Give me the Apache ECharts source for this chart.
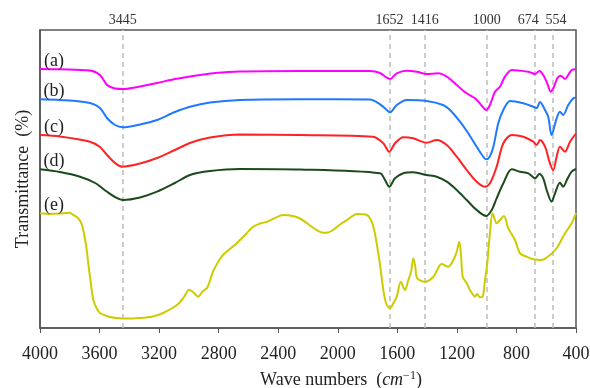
<!DOCTYPE html>
<html>
<head>
<meta charset="utf-8">
<script src="https://cdn.jsdelivr.net/npm/echarts@6/dist/echarts.min.js"></script>
<style>
html,body{margin:0;padding:0;background:#fff;}
#chart{width:590px;height:388px;}
</style>
</head>
<body>
<div id="chart"></div>
<script>
// Wavenumber ticks (cm^-1)
const xTicks = [4000, 3600, 3200, 2800, 2400, 2000, 1600, 1200, 800, 400];
// Marked band positions
const bands = [3445, 1652, 1416, 1000, 674, 554];
const seriesNames = ['(a)', '(b)', '(c)', '(d)', '(e)'];
const seriesColors = ['#ff00ff', '#1f78ff', '#ff2222', '#1b4a1b', '#cccc00'];

// [wavenumber, transmittance (arb. units, stacked offsets)]
const seriesA = [[4000,259],[3866,258.7],[3664,257.5],[3597,253],[3550,243],[3496,239.5],[3443,239],[3328,241.5],[3214,245],[3094,249],[2993,251.5],[2925,253],[2825,255],[2657,256.5],[2254,257],[1784,257],[1716,255],[1671,250.3],[1649,249],[1604,254.7],[1537,257.3],[1470,256.3],[1403,254],[1325,254.7],[1268,251.3],[1201,243],[1134,234.7],[1078,229.7],[1033,222.3],[1004,218],[978,223],[944,236.3],[911,241.3],[877,251.3],[832,258],[776,257.3],[720,256.3],[675,254],[646,257],[620,253],[593,244.7],[570,236.3],[548,241.3],[526,249.7],[503,252.3],[474,249],[452,253],[429,258],[400,258.7]];

const seriesB = [[4000,228.7],[3866,228],[3664,225],[3597,220],[3550,210],[3496,203],[3443,200.7],[3328,203.5],[3214,208],[3094,216],[2993,221.3],[2858,225.5],[2657,228],[2254,228.7],[1784,228.5],[1716,223.7],[1671,218],[1649,215.7],[1604,223],[1537,228],[1403,227],[1293,223],[1246,218],[1179,206.3],[1125,195],[1067,181.3],[1031,173],[1004,168.7],[981,171],[955,181.3],[922,204.7],[888,218],[843,227],[754,224.7],[687,221.3],[664,220],[642,226],[608,218],[586,211],[564,193],[530,209.7],[508,216.3],[486,213],[452,223],[418,229.7],[400,230.5]];

const seriesC = [[4000,193],[3866,191.5],[3664,186.3],[3597,181],[3550,173],[3496,165],[3450,161.3],[3328,164.5],[3214,170],[3094,178],[2993,185],[2858,190.5],[2657,193.5],[2254,193],[1763,191.3],[1694,184.7],[1654,176.3],[1616,184.7],[1560,190.7],[1493,189.7],[1403,185.3],[1336,188],[1268,183],[1201,171.3],[1134,158],[1067,146.3],[1011,141.3],[978,144.7],[933,161.3],[888,184.7],[832,193],[754,191.3],[687,186.3],[664,183],[642,188],[608,181.3],[575,164.7],[553,158],[530,171.3],[508,181.3],[474,176.3],[440,186.3],[400,194.5]];

const seriesD = [[4000,158.7],[3866,156],[3731,151.3],[3630,145],[3550,136.3],[3496,131],[3443,128],[3328,130.5],[3214,136.3],[3094,145],[2993,153],[2858,157],[2657,159],[2254,158.5],[1716,154.7],[1683,148],[1654,141.3],[1616,149.7],[1560,154.7],[1493,155.7],[1403,153],[1336,151.3],[1268,146.3],[1201,138],[1134,128],[1067,118],[1004,112],[966,118],[933,129.7],[888,144.7],[832,158.7],[776,156.3],[720,154.7],[675,149.7],[646,154],[620,149.7],[597,138],[564,126.3],[541,134.7],[508,145.3],[486,141.3],[456,149.7],[429,156.3],[400,159]];

const seriesE = [[4000,114.7],[3933,114],[3866,114.4],[3799,115.2],[3785,114],[3745,110],[3718,103],[3691,83],[3676,65],[3657,43],[3642,28],[3617,19],[3597,15],[3530,11],[3443,9.5],[3328,10],[3241,11.5],[3174,15],[3080,23],[3033,31],[3000,38],[2972,36],[2939,31.3],[2905,37],[2878,40],[2838,56.3],[2804,66],[2771,73],[2724,79],[2677,85],[2623,93],[2569,101.3],[2522,104.5],[2475,106.3],[2422,110],[2368,113],[2301,112],[2254,109.5],[2207,104.7],[2153,99],[2099,95.3],[2066,95.5],[2032,98],[1985,103.5],[1938,108],[1871,114],[1804,113],[1777,108],[1757,99],[1737,83],[1716,63],[1696,40],[1676,25],[1649,19.7],[1629,24],[1604,31.3],[1577,46.3],[1549,38],[1526,48],[1508,56],[1493,69.7],[1481,63],[1466,49.7],[1414,46.3],[1358,51.3],[1302,64],[1257,61.3],[1224,68],[1201,76.3],[1184,86.3],[1172,73],[1161,51.3],[1134,44.7],[1112,38],[1078,31.3],[1065,34],[1045,30.7],[1027,31.3],[1011,48],[996,64.7],[978,94.7],[960,114.7],[933,104.7],[911,108],[884,112],[855,99.7],[810,88],[776,74.7],[731,71.3],[687,68.7],[631,68],[575,73],[530,79.7],[474,94.7],[429,104.7],[400,115]];

const allSeries = [seriesA, seriesB, seriesC, seriesD, seriesE];
const FONT = "'Liberation Serif', 'Times New Roman', serif";

const chart = echarts.init(document.getElementById('chart'), null, {renderer: 'canvas'});

const bandOffsets = {674: [-7, 0], 554: [3, 0]};

const series = allSeries.map((d, i) => {
  const s = {
    name: seriesNames[i],
    type: 'line',
    data: d,
    showSymbol: false,
    smooth: 0.3,
    lineStyle: {color: seriesColors[i], width: 2},
    itemStyle: {color: seriesColors[i]},
    z: 3,
    markPoint: {
      symbol: 'circle',
      symbolSize: 0,
      silent: true,
      data: [{coord: d[0]}],
      label: {
        show: true,
        position: 'top',
        distance: 0,
        offset: [14, 1],
        formatter: seriesNames[i],
        fontFamily: FONT,
        fontSize: 18,
        color: '#222'
      }
    }
  };
  if (i === 0) {
    s.markLine = {
      silent: true,
      symbol: ['none', 'none'],
      z: 1,
      lineStyle: {type: [5, 4], color: '#bdbdbd', width: 1.5},
      label: {
        show: true,
        position: 'end',
        distance: 3,
        fontFamily: FONT,
        fontSize: 14,
        color: '#333',
        formatter: p => String(p.value)
      },
      data: bands.map(b => ({xAxis: b, label: {offset: bandOffsets[b] || [0, 0]}}))
    };
  }
  return s;
});

chart.setOption({
  animation: false,
  backgroundColor: '#fff',
  grid: {
    left: 40, right: 14, top: 30, bottom: 60,
    outerBoundsMode: 'none',
    containLabel: false,
    show: true, borderColor: '#555', borderWidth: 1.5, backgroundColor: 'transparent'
  },
  xAxis: {
    type: 'value',
    inverse: true,
    min: 400, max: 4000, interval: 400,
    name: 'Wave numbers  ({i|cm}{s|−1})',
    nameLocation: 'middle',
    nameGap: 42,
    nameTextStyle: {
      fontFamily: FONT, fontSize: 18, color: '#222',
      padding: [0, 0, 0, 66],
      rich: {
        i: {fontFamily: FONT, fontSize: 18, fontStyle: 'italic', color: '#222'},
        s: {fontFamily: FONT, fontSize: 12, color: '#222', padding: [0, 0, 9, 0]}
      }
    },
    axisLine: {show: true, lineStyle: {color: '#555', width: 1.5}},
    axisTick: {show: true, length: 5, inside: false, lineStyle: {color: '#555', width: 1}},
    axisLabel: {fontFamily: FONT, fontSize: 18, color: '#222', margin: 17,
      formatter: v => xTicks.includes(v) ? String(v) : ''},
    splitLine: {show: false}
  },
  yAxis: {
    type: 'value',
    min: 0, max: 298,
    name: 'Transmittance  (%)',
    nameLocation: 'middle',
    nameGap: 8,
    nameTextStyle: {fontFamily: FONT, fontSize: 18, color: '#222'},
    axisLine: {show: true, lineStyle: {color: '#555', width: 1.5}},
    axisTick: {show: false},
    axisLabel: {show: false},
    splitLine: {show: false}
  },
  series: series
});
</script>
</body>
</html>
